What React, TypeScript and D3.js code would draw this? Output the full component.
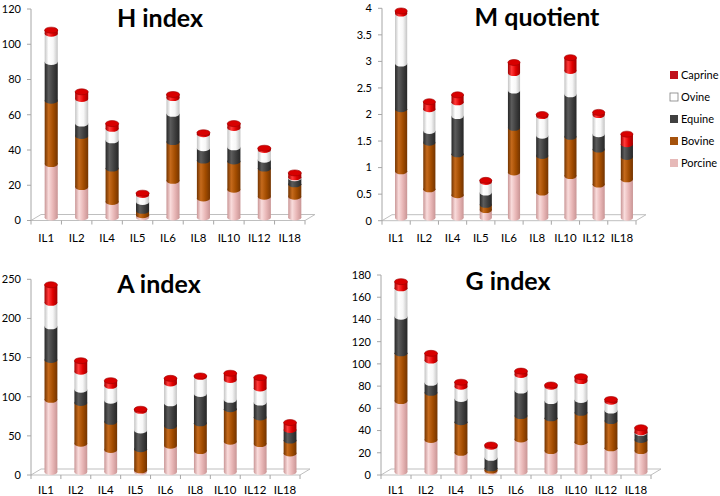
import React from "react";
import * as d3 from "d3";

// categories and series
const categories = ["IL1", "IL2", "IL4", "IL5", "IL6", "IL8", "IL10", "IL12", "IL18"];
const seriesNames = ["Porcine", "Bovine", "Equine", "Ovine", "Caprine"];

const hPorcine = [32, 19, 10.5, 3, 22.5, 12.5, 17.5, 13.5, 13.5];
const hBovine = [36, 29, 19, 2.5, 22, 21.5, 16, 16, 7];
const hEquine = [22, 7, 16, 5, 16, 7, 8, 5, 3.5];
const hOvine = [16, 14, 6.5, 4, 9, 8, 11, 5.5, 0.5];
const hCaprine = [2, 4, 3, 1, 2, 0.8, 2.5, 1, 2.5];

const mPorcine = [0.93, 0.59, 0.48, 0.2, 0.91, 0.53, 0.84, 0.68, 0.78];
const mBovine = [1.17, 0.88, 0.77, 0.1, 0.84, 0.69, 0.74, 0.66, 0.42];
const mEquine = [0.86, 0.22, 0.72, 0.23, 0.7, 0.38, 0.8, 0.29, 0.24];
const mOvine = [0.94, 0.41, 0.26, 0.2, 0.33, 0.37, 0.44, 0.36, 0];
const mCaprine = [0.05, 0.14, 0.14, 0.03, 0.2, 0.03, 0.25, 0.05, 0.19];

const aPorcine = [96, 40, 32, 6, 37.5, 30.5, 42.5, 39.5, 27.5];
const aBovine = [51, 52, 36, 27, 25, 35.5, 41.5, 34, 16.5];
const aEquine = [43, 17, 27, 24, 29, 37.5, 12, 19, 13.5];
const aOvine = [30, 23, 19, 25, 25.5, 22, 25.5, 18, 0];
const aCaprine = [23, 14, 6.5, 2, 6.5, 1, 8.5, 14, 9.5];

const gPorcine = [66.5, 31.5, 20, 4, 32, 21.5, 29.5, 24, 21.5];
const gBovine = [43, 42.5, 27.5, 2, 21, 29.5, 26.5, 24.5, 10];
const gEquine = [33, 9, 21, 9.5, 23, 15.5, 11.5, 9.5, 6.5];
const gOvine = [25.5, 20, 11, 10, 14, 13, 17, 8, 0.5];
const gCaprine = [6, 6.5, 4, 1.5, 3.5, 1.5, 4, 2, 4];

// shading for each series: [dark, light, base]
const shades: Record<string, [string, string, string]> = {
  Porcine: ["#c99595", "#f9dcdc", "#e8b6b6"],
  Bovine: ["#733400", "#c56a1c", "#a24c00"],
  Equine: ["#262626", "#5c5c5c", "#3f3f3f"],
  Ovine: ["#c4c4c4", "#ffffff", "#f7f7f7"],
  Caprine: ["#9e0000", "#ff3a3a", "#e00000"],
};
const legendColors: Record<string, string> = {
  Porcine: "#e6b9b8",
  Bovine: "#a5520c",
  Equine: "#404040",
  Ovine: "#ffffff",
  Caprine: "#c0101c",
};
const capColors: Record<string, string> = {
  Porcine: "#f2c8c8",
  Bovine: "#b85e12",
  Equine: "#555555",
  Ovine: "#ffffff",
  Caprine: "#d80000",
};

const panels = [
  { title: "H index", series: [hPorcine, hBovine, hEquine, hOvine, hCaprine], max: 120, step: 20, axisX: 31, y0: 220.5, yTop: 9, right: 305, titleX: 160, titleY: 26.5, labelY: 242 },
  { title: "M quotient", series: [mPorcine, mBovine, mEquine, mOvine, mCaprine], max: 4, step: 0.5, axisX: 382, y0: 220.7, yTop: 8.3, right: 636, titleX: 537, titleY: 26, labelY: 242 },
  { title: "A index", series: [aPorcine, aBovine, aEquine, aOvine, aCaprine], max: 250, step: 50, axisX: 31, y0: 475, yTop: 279.3, right: 300, titleX: 159, titleY: 293, labelY: 493.5 },
  { title: "G index", series: [gPorcine, gBovine, gEquine, gOvine, gCaprine], max: 180, step: 20, axisX: 381, y0: 475, yTop: 275, right: 651, titleX: 508, titleY: 290, labelY: 493.5 },
];

const DX = 10;
const DY = -6;
const FONT = "Lato, 'Open Sans', sans-serif";

function Panel({ p }: { p: (typeof panels)[number] }) {
  const y = d3.scaleLinear().domain([0, p.max]).range([p.y0, p.yTop]);
  const x = d3.scaleBand<string>().domain(categories).range([p.axisX, p.right]);
  const ticks = d3.range(0, p.max + p.step / 2, p.step);
  const w = x.bandwidth() * 0.43;
  const ry = 3;
  const baseY = p.y0 + DY / 2;

  return (
    <g>
      {/* floor */}
      <polygon
        points={`${p.axisX},${p.y0} ${p.right},${p.y0} ${p.right + DX},${p.y0 + DY} ${p.axisX + DX},${p.y0 + DY}`}
        fill="none"
        stroke="#bfbfbf"
      />
      {categories.map((c, i) => (
        <line key={c} x1={p.axisX + x.bandwidth() * i} x2={p.axisX + x.bandwidth() * i} y1={p.y0} y2={p.y0 + 4} stroke="#a6a6a6" />
      ))}
      <line x1={p.right} x2={p.right} y1={p.y0} y2={p.y0 + 4} stroke="#a6a6a6" />
      {/* y axis */}
      <line x1={p.axisX} x2={p.axisX} y1={p.y0} y2={p.yTop} stroke="#a6a6a6" />
      {ticks.map((t) => (
        <g key={t}>
          <line x1={p.axisX - 4} x2={p.axisX} y1={y(t)} y2={y(t)} stroke="#a6a6a6" />
          <text x={p.axisX - 10} y={y(t)} dy="0.35em" textAnchor="end" fontSize={11} fontFamily={FONT} fill="#000">
            {String(+t.toFixed(2))}
          </text>
        </g>
      ))}
      {/* bars */}
      {categories.map((c, i) => {
        const cx = (x(c) as number) + x.bandwidth() / 2 + DX / 2;
        let cum = 0;
        const segs = seriesNames.map((name, s) => {
          const v = p.series[s][i];
          const start = cum;
          cum += v;
          return { name, v, start, end: cum };
        }).filter((d) => d.v > 0);
        return (
          <g key={c}>
            {segs.map((d, k) => {
              const yb = k === 0 ? baseY : y(d.start);
              const yt = y(d.end);
              return (
                <g key={d.name}>
                  <rect x={cx - w / 2} y={yt} width={w} height={Math.max(0, yb - yt)} fill={`url(#grad-${d.name})`} />
                  <ellipse cx={cx} cy={yb} rx={w / 2} ry={ry} fill={`url(#grad-${d.name})`} />
                  {k === segs.length - 1 && (
                    <ellipse cx={cx} cy={yt} rx={w / 2} ry={ry} fill={capColors[d.name]} stroke={shades[d.name][0]} strokeWidth={0.6} />
                  )}
                </g>
              );
            })}
          </g>
        );
      })}
      {categories.map((c) => (
        <text key={c} x={(x(c) as number) + x.bandwidth() / 2} y={p.labelY} textAnchor="middle" fontSize={11.5} fontFamily={FONT} fill="#000">
          {c}
        </text>
      ))}
      <text x={p.titleX} y={p.titleY} textAnchor="middle" fontSize={25} fontWeight="bold" fontFamily={FONT} fill="#000">
        {p.title}
      </text>
    </g>
  );
}

export default function App() {
  const legendOrder = [...seriesNames].reverse();
  return (
    <svg width={720} height={496} style={{ position: "absolute", left: 0, top: 0, background: "#fff" }}>
      <defs>
        {seriesNames.map((name) => (
          <linearGradient key={name} id={`grad-${name}`} x1="0" x2="1" y1="0" y2="0">
            <stop offset="0" stopColor={shades[name][0]} />
            <stop offset="0.3" stopColor={shades[name][1]} />
            <stop offset="0.65" stopColor={shades[name][2]} />
            <stop offset="1" stopColor={shades[name][0]} />
          </linearGradient>
        ))}
      </defs>
      <rect width={720} height={496} fill="#fff" />
      {panels.map((p) => (
        <Panel key={p.title} p={p} />
      ))}
      {legendOrder.map((name, i) => (
        <g key={name} transform={`translate(670,${75 + i * 22})`}>
          <rect x={0} y={-4} width={8} height={8} fill={legendColors[name]} stroke={name === "Ovine" ? "#7f7f7f" : "none"} strokeWidth={0.8} />
          <text x={11} y={0} dy="0.35em" fontSize={11} fontFamily={FONT} fill="#000">
            {name}
          </text>
        </g>
      ))}
    </svg>
  );
}
